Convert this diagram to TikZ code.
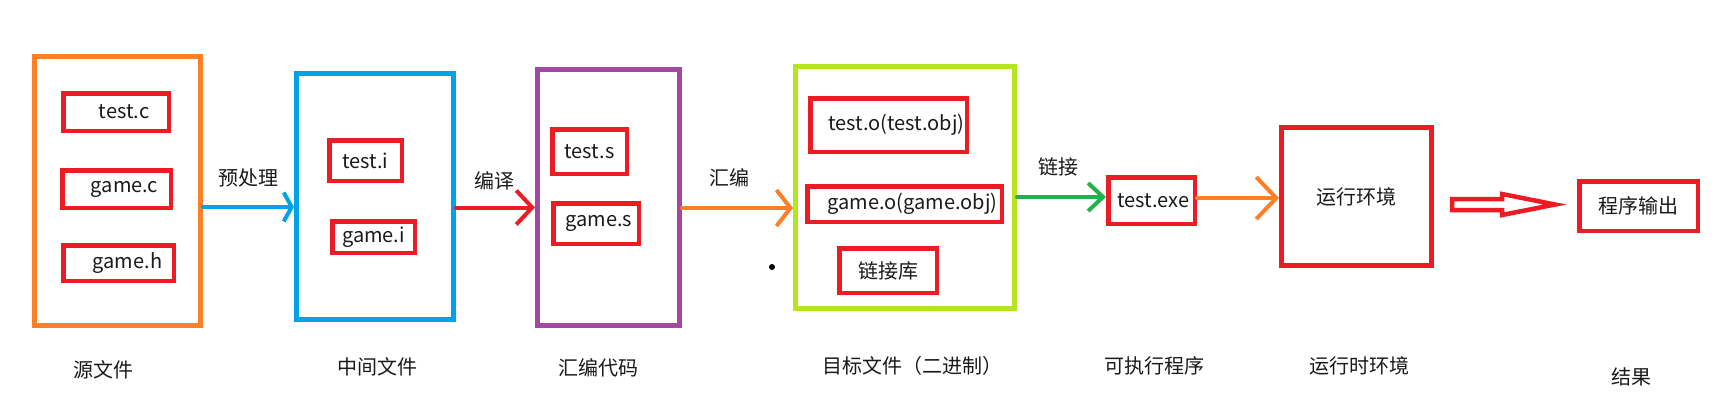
\documentclass[tikz,border=0pt]{standalone}
\usepackage{fontspec}
\setmainfont{Noto Sans CJK SC}
\usetikzlibrary{arrows.meta}
\definecolor{cOrange}{HTML}{FF7F27}
\definecolor{cBlue}{HTML}{00A2E8}
\definecolor{cPurple}{HTML}{A349A4}
\definecolor{cLime}{HTML}{B5E61D}
\definecolor{cRed}{HTML}{ED1C24}
\definecolor{cGreen}{HTML}{22B14C}
\definecolor{cText}{HTML}{1A1A1A}
\begin{document}
\begin{tikzpicture}[x=1pt,y=-1pt,
  every node/.style={font=\fontsize{20}{24}\selectfont, text=cText},
  bigbox/.style={draw, line width=5pt, inner sep=0pt},
  redbox/.style={draw=cRed, line width=4.5pt, inner sep=0pt},
  lbl/.style={inner sep=0pt},
  arr/.style={line width=4pt, line cap=round, line join=round}
]
\useasboundingbox (0,0) rectangle (1732,416);
\fill[white] (0,0) rectangle (1732,416);

% big boxes
\node[bigbox, draw=cOrange, minimum width=166pt, minimum height=269pt] (src) at (117.5,191) {};
\node[bigbox, draw=cBlue, minimum width=157pt, minimum height=246pt] (mid) at (375,196.5) {};
\node[bigbox, draw=cPurple, minimum width=142pt, minimum height=256pt] (asm) at (608.5,197.5) {};
\node[bigbox, draw=cLime, minimum width=219pt, minimum height=242pt] (obj) at (905,187.5) {};
\node[bigbox, draw=cRed, minimum width=150pt, minimum height=138pt] (env) at (1356.5,196.5) {运行环境};

% small red boxes
\node[redbox, minimum width=105.5pt, minimum height=37.5pt] (testc) at (116,112) {\hspace*{16pt}test.c};
\node[redbox, minimum width=108.5pt, minimum height=37.5pt] (gamec) at (116.5,189) {\hspace*{16pt}game.c};
\node[redbox, minimum width=110.5pt, minimum height=35.5pt] (gameh) at (118.5,263) {\hspace*{18pt}game.h};
\node[redbox, minimum width=72.5pt, minimum height=40.5pt] (testi) at (365.5,160.5) {test.i};
\node[redbox, minimum width=82.5pt, minimum height=31.5pt] (gamei) at (373.5,237) {game.i};
\node[redbox, minimum width=74.5pt, minimum height=44.5pt] (tests) at (589.5,151.5) {test.s};
\node[redbox, minimum width=85.5pt, minimum height=40.5pt] (games) at (596,223.5) {\hspace*{6pt}game.s};
\node[redbox, minimum width=156.5pt, minimum height=53.5pt] (testo) at (888.5,125) {\hspace*{16pt}test.o(test.obj)};
\node[redbox, minimum width=194.5pt, minimum height=35.5pt] (gameo) at (904.5,204) {\hspace*{16pt}game.o(game.obj)};
\node[redbox, minimum width=97.5pt, minimum height=44.5pt] (lib) at (888,270.5) {链接库};
\node[redbox, minimum width=86.5pt, minimum height=46.5pt] (exe) at (1151.5,200.5) {\hspace*{4pt}test.exe};
\node[redbox, minimum width=118.5pt, minimum height=49.5pt] (out) at (1638.5,206) {程序输出};

% connectors
\draw[arr, cBlue, -{Straight Barb[length=8pt, width=29pt]}] ([yshift=-16pt]src.east) -- ([yshift=-10.5pt]mid.west);
\draw[arr, cRed, -{Straight Barb[length=16pt, width=34pt]}] ([yshift=-11pt]mid.east) -- ([yshift=-10pt]asm.west);
\draw[arr, cOrange, -{Straight Barb[length=14pt, width=36pt]}] ([yshift=-10.5pt]asm.east) -- ([yshift=-20.5pt]obj.west);
\draw[arr, cGreen, -{Straight Barb[length=15pt, width=28pt]}] ([yshift=-9.5pt]obj.east) -- ([yshift=3.5pt]exe.west);
\draw[arr, cOrange, -{Straight Barb[length=20pt, width=42pt]}] ([yshift=2.5pt]exe.east) -- ([yshift=-1.5pt]env.west);

% hollow arrow env -> out
\draw[cRed, line width=4.5pt, line join=miter]
  (1452,199) -- (1502,199) -- (1502,194) -- (1555,204.5) -- (1502,215) -- (1502,210) -- (1452,210) -- cycle;

% stray dot
\fill[black] (772,267) circle (3pt);

% arrow labels
\node[lbl] (lpre) at (248,178) {预处理};
\node[lbl] (lcomp) at (494,181) {编译};
\node[lbl] (lasm) at (729,178) {汇编};
\node[lbl] (llink) at (1058,167) {链接};

% bottom labels
\node[lbl] (b1) at (103,370) {源文件};
\node[lbl] (b2) at (377,367) {中间文件};
\node[lbl] (b3) at (598,368) {汇编代码};
\node[lbl] (b4) at (912,366) {目标文件（二进制）};
\node[lbl] (b5) at (1154,366) {可执行程序};
\node[lbl] (b6) at (1359,366) {运行时环境};
\node[lbl] (b7) at (1631,377) {结果};
\end{tikzpicture}
\end{document}
